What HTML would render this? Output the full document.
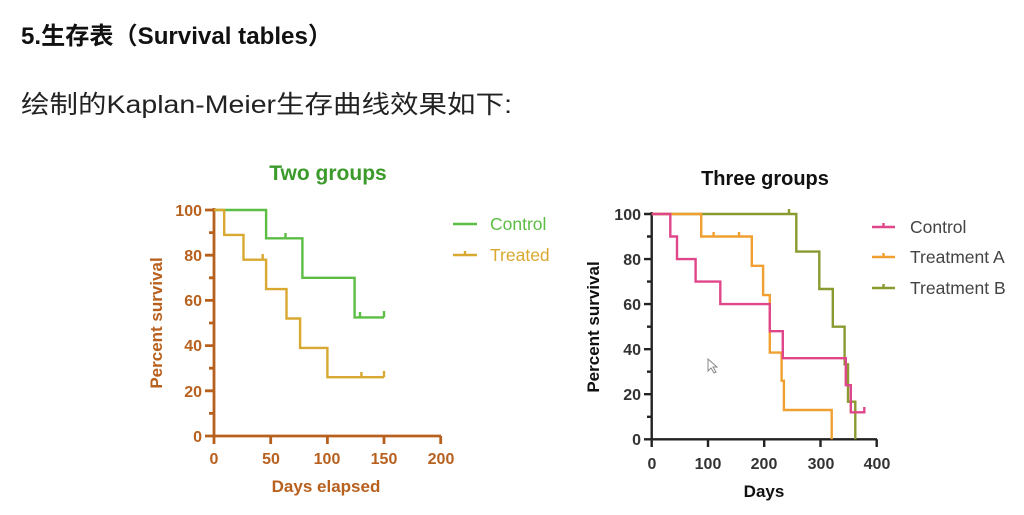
<!DOCTYPE html>
<html><head><meta charset="utf-8"><style>
html,body{margin:0;padding:0;background:#fff;}
svg{display:block;}
text{font-family:"Liberation Sans","Noto Sans CJK SC",sans-serif;}
</style></head><body>
<svg width="1024" height="515" viewBox="0 0 1024 515" xmlns="http://www.w3.org/2000/svg">
<text x="21" y="44" font-size="24" font-weight="bold" fill="#111" textLength="311" lengthAdjust="spacingAndGlyphs">5.生存表（Survival tables）</text>
<text x="21" y="113" font-size="25" fill="#222" textLength="491" lengthAdjust="spacingAndGlyphs">绘制的Kaplan-Meier生存曲线效果如下:</text>

<!-- Chart 1 -->
<text x="328" y="180" font-size="21" font-weight="bold" fill="#3a9a2a" text-anchor="middle">Two groups</text>
<g stroke="#b8601e" stroke-width="2.8" fill="none">
<path d="M214,208 V436 H441"/>
<path d="M214,210 H205 M214,255.2 H205 M214,300.4 H205 M214,345.6 H205 M214,390.8 H205 M214,436 H205"/>
<path d="M214,232.6 H209 M214,277.8 H209 M214,323 H209 M214,368.2 H209 M214,413.4 H209"/>
<path d="M214,436 V444 M270.7,436 V444 M327.4,436 V444 M384,436 V444 M440.7,436 V444"/>
</g>
<g font-size="16" font-weight="bold" fill="#b8601e">
<text x="202" y="216" text-anchor="end">100</text>
<text x="202" y="261" text-anchor="end">80</text>
<text x="202" y="306" text-anchor="end">60</text>
<text x="202" y="351" text-anchor="end">40</text>
<text x="202" y="397" text-anchor="end">20</text>
<text x="202" y="442" text-anchor="end">0</text>
<text x="214" y="464" text-anchor="middle">0</text>
<text x="271" y="464" text-anchor="middle">50</text>
<text x="327" y="464" text-anchor="middle">100</text>
<text x="384" y="464" text-anchor="middle">150</text>
<text x="441" y="464" text-anchor="middle">200</text>
</g>
<text x="326" y="492" font-size="17" font-weight="bold" fill="#b8601e" text-anchor="middle">Days elapsed</text>
<text transform="translate(162,323) rotate(-90)" font-size="17" font-weight="bold" fill="#b8601e" text-anchor="middle">Percent survival</text>
<g fill="none" stroke-width="2.4">
<path stroke="#5cbd44" d="M214,210 H266.1 V238.3 H302.4 V277.8 H354.6 V317.4 H384 M285.5,238.3 V233 M360,317.4 V312 M384,317.4 V311"/>
<path stroke="#d9a830" d="M214,210 H224.2 V234.9 H243.5 V259.7 H266.1 V289.1 H286.5 V318.5 H300.1 V347.9 H327.4 V377.2 H384 M262.7,259.7 V254 M361.4,377.2 V372 M384,377.2 V371"/>
<path stroke="#5cbd44" d="M453,224 H477"/>
<path stroke="#d9a830" d="M453,255 H477 M465,255 V251"/>
</g>
<text x="490" y="230" font-size="17.5" fill="#5cbd44">Control</text>
<text x="490" y="261" font-size="17.5" fill="#d9a830">Treated</text>

<!-- Chart 2 -->
<text x="765" y="185" font-size="20" font-weight="bold" fill="#111" text-anchor="middle">Three groups</text>
<g stroke="#222" stroke-width="2.4" fill="none">
<path d="M651.7,212 V439.3 H877"/>
<path d="M651.7,214 H644 M651.7,259.1 H644 M651.7,304.1 H644 M651.7,349.2 H644 M651.7,394.2 H644 M651.7,439.3 H644"/>
<path d="M651.7,236.5 H647 M651.7,281.6 H647 M651.7,326.7 H647 M651.7,371.7 H647 M651.7,416.8 H647"/>
<path d="M651.7,439.3 V447 M708,439.3 V447 M764.2,439.3 V447 M820.5,439.3 V447 M876.7,439.3 V447"/>
</g>
<g font-size="16" font-weight="bold" fill="#333">
<text x="641" y="220" text-anchor="end">100</text>
<text x="641" y="265" text-anchor="end">80</text>
<text x="641" y="310" text-anchor="end">60</text>
<text x="641" y="355" text-anchor="end">40</text>
<text x="641" y="400" text-anchor="end">20</text>
<text x="641" y="445" text-anchor="end">0</text>
<text x="652" y="469" text-anchor="middle">0</text>
<text x="708" y="469" text-anchor="middle">100</text>
<text x="764" y="469" text-anchor="middle">200</text>
<text x="821" y="469" text-anchor="middle">300</text>
<text x="877" y="469" text-anchor="middle">400</text>
</g>
<text x="764" y="497" font-size="17" font-weight="bold" fill="#111" text-anchor="middle">Days</text>
<text transform="translate(599,327) rotate(-90)" font-size="17" font-weight="bold" fill="#111" text-anchor="middle">Percent survival</text>
<g fill="none" stroke-width="2.4">
<path stroke="#8a9a30" d="M651.7,214 H796.3 V251.6 H819.3 V289 H832.8 V326.7 H844.6 V364.3 H848 V401.7 H855.3 V439.3 M789,214 V209"/>
<path stroke="#f0a030" d="M651.7,214 H701.2 V236.5 H751.8 V265.8 H763.1 V295.1 H769.8 V352.6 H781.6 V380.7 H783.9 V410 H831.7 V439.3 M713.6,236.5 V232 M739,236.5 V232"/>
<path stroke="#e0468a" d="M651.7,214 H670.3 V236.5 H677 V259.1 H695.6 V281.6 H720.3 V304.1 H769.8 V331.2 H782.8 V358.2 H845.8 V385.2 H850.8 V412.3 H864.3 V407"/>
<path stroke="#e0468a" d="M872,227 H895 M883.5,227 V223"/>
<path stroke="#f0a030" d="M872,257 H895 M883.5,257 V253"/>
<path stroke="#8a9a30" d="M872,288 H895 M883.5,288 V284"/>
</g>
<g font-size="17.5" fill="#444">
<text x="910" y="233">Control</text>
<text x="910" y="263">Treatment A</text>
<text x="910" y="294">Treatment B</text>
</g>
<path d="M708,359 L708,371 L711,368 L714,373 L716,372 L713,367 L717,367 Z" fill="#fff" stroke="#888" stroke-width="1"/>
</svg>
</body></html>
